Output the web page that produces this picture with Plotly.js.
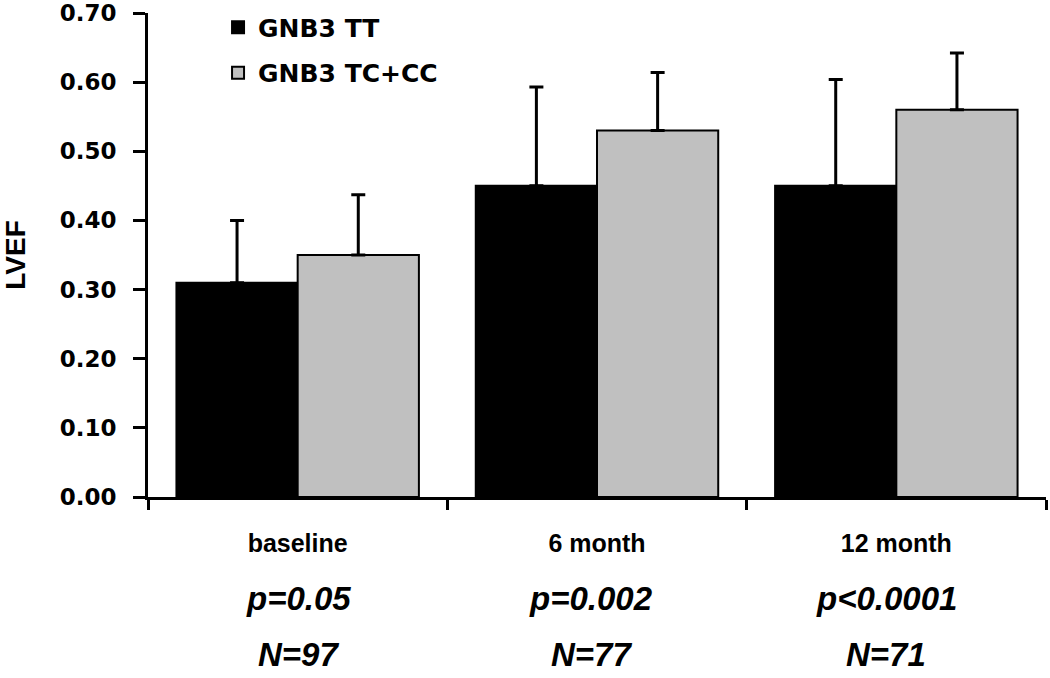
<!DOCTYPE html>
<html>
<head>
<meta charset="utf-8">
<script src="https://cdn.plot.ly/plotly-3.0.1.min.js"></script>
<style>html,body{margin:0;padding:0;background:#fff;}#chart{width:1050px;height:678px;}</style>
</head>
<body>
<div id="chart"></div>
<script>
// ---- data ----
const categories = ["baseline", "6 month", "12 month"];
const seriesNames = ["GNB3 TT", "GNB3 TC+CC"];
const ttValues = [0.31, 0.45, 0.45];
const ttErrors = [0.09, 0.143, 0.154];
const tcValues = [0.35, 0.53, 0.56];
const tcErrors = [0.087, 0.084, 0.082];
const pLabels = ["p=0.05", "p=0.002", "p<0.0001"];
const nLabels = ["N=97", "N=77", "N=71"];
const yTickVals = [0, 0.1, 0.2, 0.3, 0.4, 0.5, 0.6, 0.7];

const zeros = categories.map(() => 0);

const traces = [
  {
    type: "bar", name: seriesNames[0], x: categories, y: ttValues,
    marker: {color: "#000000", line: {color: "#000000", width: 2}},
    error_y: {type: "data", array: ttErrors, arrayminus: zeros, symmetric: false,
              color: "#000000", thickness: 3, width: 7},
    legendgroup: "a"
  },
  {
    type: "bar", name: seriesNames[1], x: categories, y: tcValues,
    marker: {color: "#C0C0C0", line: {color: "#000000", width: 2}},
    error_y: {type: "data", array: tcErrors, arrayminus: zeros, symmetric: false,
              color: "#000000", thickness: 3, width: 7},
    legendgroup: "b"
  }
];

const annotations = [];
const shifts = [1, -6, -10];
const annFont = {family: "Liberation Sans, Arial, sans-serif", size: 33, color: "#000", weight: "bold", style: "italic"};
categories.forEach((c, i) => {
  annotations.push({
    xref: "x", yref: "paper", x: i, y: -0.21, yanchor: "middle", xanchor: "center",
    xshift: shifts[i], showarrow: false, text: pLabels[i], font: annFont
  });
  annotations.push({
    xref: "x", yref: "paper", x: i, y: -0.325, yanchor: "middle", xanchor: "center",
    xshift: shifts[i], showarrow: false, text: nLabels[i], font: annFont
  });
});

const layout = {
  width: 1050, height: 678,
  margin: {l: 148, r: 4, t: 13, b: 181, pad: 0, autoexpand: false},
  paper_bgcolor: "#ffffff", plot_bgcolor: "#ffffff",
  barmode: "group", bargap: 0.19, bargroupgap: 0,
  showlegend: true,
  legend: {
    x: 0.078, xanchor: "left",
    yref: "container", y: 0.9935, yanchor: "top",
    bgcolor: "rgba(0,0,0,0)", borderwidth: 0,
    traceorder: "grouped", tracegroupgap: 10,
    font: {family: "DejaVu Sans, Verdana, sans-serif", size: 25, color: "#000", weight: "bold"}
  },
  xaxis: {
    type: "category", range: [-0.5, 2.5],
    showline: true, linecolor: "#000", linewidth: 3,
    ticks: "outside", tickson: "boundaries", ticklen: 10, tickwidth: 3, tickcolor: "#000",
    showgrid: false, zeroline: false,
    tickfont: {family: "Liberation Sans, Arial, sans-serif", size: 25, color: "#000", weight: "bold"},
    ticklabelstandoff: 22
  },
  yaxis: {
    range: [0, 0.7], tickvals: yTickVals, tickformat: ".2f",
    showline: true, linecolor: "#000", linewidth: 3,
    ticks: "outside", ticklen: 12, tickwidth: 3, tickcolor: "#000",
    showgrid: false, zeroline: false,
    tickfont: {family: "DejaVu Sans, Verdana, sans-serif", size: 23, color: "#000", weight: "bold"},
    ticklabelstandoff: 12,
    title: {text: "LVEF", standoff: 30,
            font: {family: "Liberation Sans, Arial, sans-serif", size: 28, color: "#000", weight: "bold"}}
  },
  annotations: annotations
};

Plotly.newPlot("chart", traces, layout, {displayModeBar: false, staticPlot: true});
</script>
</body>
</html>
